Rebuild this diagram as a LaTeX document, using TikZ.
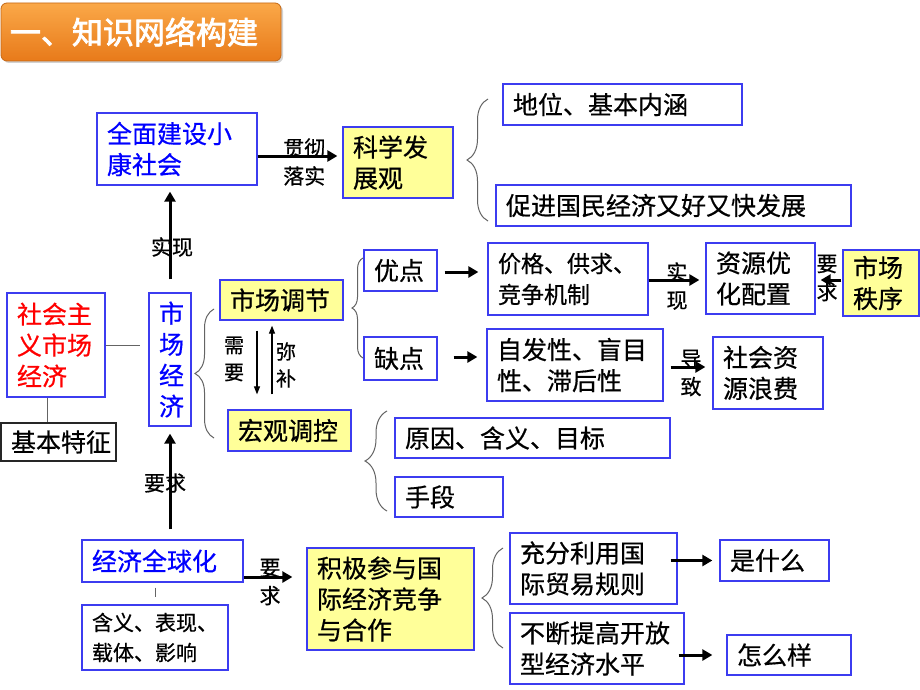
\documentclass[tikz,border=0pt]{standalone}
\usepackage{fontspec}
\newfontfamily\cjk[FakeBold=0.6]{Noto Sans CJK SC}
\newfontfamily\cjkb[FakeBold=2.5]{Noto Sans CJK SC}
\usetikzlibrary{arrows.meta,decorations.pathreplacing,shadows,calc}
\definecolor{bbl}{RGB}{60,60,240}
\definecolor{yel}{RGB}{255,255,153}
\definecolor{bluet}{RGB}{0,0,255}
\definecolor{redt}{RGB}{255,0,0}
\definecolor{gline}{RGB}{100,100,100}
\definecolor{ortop}{RGB}{250,168,72}
\definecolor{orbot}{RGB}{232,122,26}
\tikzset{
  bx/.style={draw=bbl, line width=1.3pt, inner xsep=10pt, inner ysep=0pt, align=left,
    font=\cjk\fontsize{25pt}{31pt}\selectfont, anchor=center},
  yb/.style={bx, fill=yel},
  arr/.style={line width=3pt, -{Triangle[length=10pt,width=11pt]}},
  tarr/.style={line width=1.2pt, -{Triangle[length=8pt,width=6pt]}},
  lbl/.style={font=\cjk\fontsize{21pt}{28pt}\selectfont, align=center, inner sep=0pt},
  lbls/.style={font=\cjk\fontsize{20pt}{27pt}\selectfont, align=center, inner sep=0pt},
  gl/.style={draw=gline, line width=1pt},
  brc/.style={draw=gline, line width=1pt, decorate},
}
\newcommand\mybox[7]{%
  \pgfmathsetmacro\bw{#5-#3}\pgfmathsetmacro\bh{#6-#4}%
  \pgfmathsetmacro\tw{#5-#3-20}%
  \pgfmathsetmacro\cx{(#3+#5)/2}\pgfmathsetmacro\cy{(#4+#6)/2}%
  \node[#2, minimum width=\bw pt, minimum height=\bh pt, text width=\tw pt] (#1) at (\cx,\cy) {#7};}
\begin{document}
\begin{tikzpicture}[x=1pt,y=-1pt]
\useasboundingbox (0,0) rectangle (920,690);
\fill[white] (0,0) rectangle (920,690);
% title
\node[rounded corners=6pt, top color=ortop, bottom color=orbot, draw=orbot!85!black, line width=0.8pt,
  drop shadow={opacity=0.35, shadow xshift=2pt, shadow yshift=-2pt},
  minimum width=280pt, minimum height=58pt, text width=262pt, inner xsep=9pt, align=left,
  text=white, font=\cjkb\fontsize{31pt}{34pt}\selectfont] (title) at (141,32) {一、知识网络构建};
% boxes
\mybox{qm}{bx,text=bluet}{97}{113}{257}{185}{全面建设小\\康社会}
\mybox{kx}{yb}{343}{127}{453}{198}{科学发\\展观}
\mybox{dw}{bx}{503}{84}{742}{125}{地位、基本内涵}
\mybox{cj}{bx}{496}{185}{851}{226}{促进国民经济又好又快发展}
\mybox{sh}{bx,text=redt}{7}{293}{105}{397}{社会主\\义市场\\经济}
\mybox{jb}{bx,draw=black!85}{1}{423}{116}{461}{基本特征}
\mybox{sc}{bx,text=bluet,align=center}{149}{293}{191}{426}{市\\场\\经\\济}
\mybox{tj}{yb}{220}{280}{343}{320}{市场调节}
\mybox{hg}{yb}{228}{410}{351}{451}{宏观调控}
\mybox{yd}{bx}{364}{250}{437}{291}{优点}
\mybox{jg}{bx,font=\cjk\fontsize{23pt}{31pt}\selectfont}{488}{243}{648}{315}{价格、供求、\\竞争机制}
\mybox{zy}{bx}{706}{243}{815}{314}{资源优\\化配置}
\mybox{zx}{yb}{843}{250}{919}{316}{市场\\秩序}
\mybox{qd}{bx}{364}{337}{437}{380}{缺点}
\mybox{zf}{bx}{487}{329}{663}{401}{自发性、盲目\\性、滞后性}
\mybox{lf}{bx}{713}{337}{823}{409}{社会资\\源浪费}
\mybox{yy}{bx}{395}{418}{670}{458}{原因、含义、目标}
\mybox{sd}{bx}{395}{477}{503}{517}{手段}
\mybox{qq}{bx,text=bluet}{82}{540}{243}{582}{经济全球化}
\mybox{hy}{bx,font=\cjk\fontsize{21pt}{30pt}\selectfont}{82}{605}{228}{670}{含义、表现、\\载体、影响}
\mybox{ck}{yb}{307}{548}{474}{650}{积极参与国\\际经济竞争\\与合作}
\mybox{cf}{bx}{510}{533}{677}{604}{充分利用国\\际贸易规则}
\mybox{bd}{bx}{510}{613}{684}{684}{不断提高开放\\型经济水平}
\mybox{sm}{bx}{720}{540}{829}{581}{是什么}
\mybox{zm}{bx}{727}{635}{851}{675}{怎么样}
% connectors
\draw[arr, shorten >=5pt] ([yshift=-7pt]qm.east) -- ([yshift=-7pt]qm.east -| kx.west)
  node[lbl, pos=0.55, yshift=-6pt] (l1) {贯彻\\落实};
\draw[arr, shorten <=13pt, shorten >=6pt] (sc.north) -- (sc.north |- qm.south)
  node[lbl, midway, xshift=2pt, yshift=-8pt] (l2) {实现};
\draw[gl, shorten >=8pt] (sh.east) -- (sh.east -| sc.west);
\draw[gl] ([xshift=-9pt]sh.south) -- ([xshift=-9pt]sh.south |- jb.north);
\draw[tarr, shorten <=10pt, shorten >=15pt] ([xshift=-24.5pt]tj.south) -- ([xshift=-24.5pt]tj.south |- hg.north)
  node[lbls, midway, xshift=-23pt, yshift=6pt] (l3) {需\\要};
\draw[tarr, shorten <=15pt, shorten >=5pt] ([xshift=-9.5pt]tj.south |- hg.north) -- ([xshift=-9.5pt]tj.south)
  node[lbls, midway, xshift=14pt] (l4) {弥\\补};
\draw[arr, shorten <=7pt, shorten >=9pt] ([yshift=-1.5pt]yd.east) -- ([yshift=-1.5pt]yd.east -| jg.west);
\draw[arr, shorten >=6pt] ([yshift=-1pt]jg.east) -- ([yshift=-1pt]jg.east -| zy.west)
  node[lbl, midway, yshift=-6pt] (l5) {实\\现};
\draw[arr, shorten <=1pt, shorten >=5pt] ([yshift=3pt]zx.west) -- ([yshift=3pt]zx.west -| zy.east)
  node[lbl, midway, xshift=-2pt, yshift=2pt] (l6) {要\\求};
\draw[arr, shorten <=16pt, shorten >=9pt] ([yshift=1.5pt]qd.east) -- ([yshift=1.5pt]qd.east -| zf.west);
\draw[arr, shorten <=7pt, shorten >=7pt] ([yshift=-2pt]zf.east) -- ([yshift=-2pt]zf.east -| lf.west)
  node[lbl, midway, xshift=3pt, yshift=-6pt] (l7) {导\\致};
\draw[arr, shorten <=10pt, shorten >=7pt] (sc.south |- qq.north) -- (sc.south)
  node[lbl, midway, xshift=-5pt] (l8) {要求};
\draw[gl, shorten <=5pt, shorten >=7pt] ([xshift=-7pt]qq.south) -- ([xshift=-7pt]qq.south |- hy.north);
\draw[arr, shorten >=14pt] ([yshift=-16pt]qq.east) -- ([yshift=-16pt]qq.east -| ck.west)
  node[lbl, midway, xshift=-5pt, yshift=-5pt] (l9) {要\\求};
\draw[arr, shorten <=-7pt, shorten >=7pt] (cf.east |- sm.west) -- (sm.west);
\draw[arr, shorten <=-6pt, shorten >=14pt] (bd.east |- zm.west) -- (zm.west);
% braces
\draw[brc, decoration={brace, amplitude=21pt}] (488,221) -- (488,99);
\draw[brc, decoration={brace, amplitude=19pt}] (214,438) -- (214,309);
\draw[brc, decoration={brace, amplitude=11pt}] (363,358) -- (363,258);
\draw[brc, decoration={brace, amplitude=22pt}] (387,511) -- (387,411);
\draw[brc, decoration={brace, amplitude=21pt}] (503,648) -- (503,548);
\end{tikzpicture}
\end{document}
